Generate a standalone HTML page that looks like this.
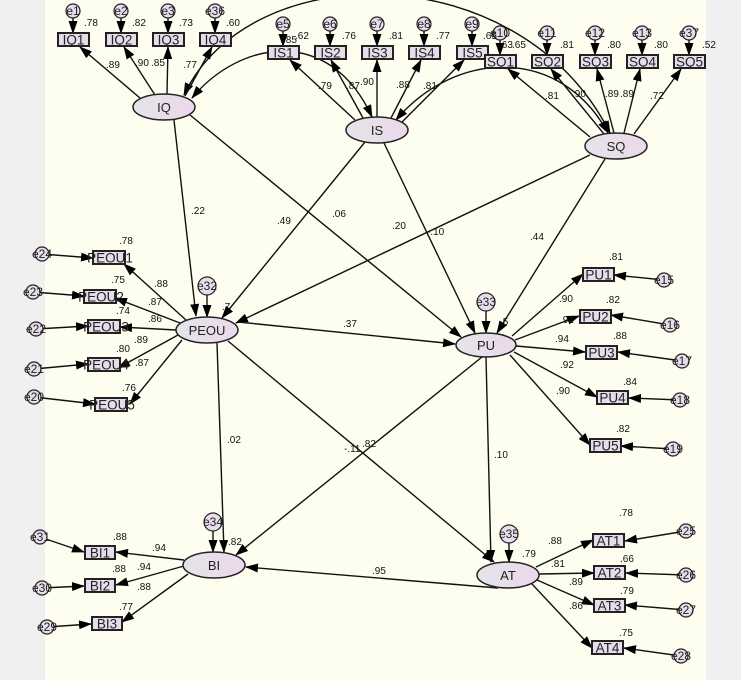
<!DOCTYPE html>
<html><head><meta charset="utf-8"><style>
html,body{margin:0;padding:0;background:#f0f0f0;}
svg{display:block;font-family:"Liberation Sans",sans-serif;}
.b{fill:#e6dcea;stroke:#222;stroke-width:2;}
.e{fill:url(#g);stroke:#222;stroke-width:1.5;}
.c{fill:#e8dcea;stroke:#222;stroke-width:1.2;}
.l{stroke:#111;stroke-width:1.4;fill:none;marker-end:url(#a);}
.cv{stroke:#111;stroke-width:1.4;fill:none;marker-end:url(#a);marker-start:url(#s);}
.t{font-size:10px;fill:#111;}
.bt{font-size:13.5px;fill:#222;text-anchor:middle;}
.et{font-size:13px;fill:#222;text-anchor:middle;}
.ct{font-size:12px;fill:#222;text-anchor:middle;}
</style></head><body>
<svg width="741" height="680" viewBox="0 0 741 680">
<defs>
<marker id="a" markerWidth="13" markerHeight="9" refX="12" refY="4.5" orient="auto" markerUnits="userSpaceOnUse"><path d="M0,0 L13,4.5 L0,9 z" fill="#000"/></marker>
<marker id="s" markerWidth="13" markerHeight="9" refX="1" refY="4.5" orient="auto" markerUnits="userSpaceOnUse"><path d="M13,0 L0,4.5 L13,9 z" fill="#000"/></marker>
<linearGradient id="g" x1="0" x2="1"><stop offset="0" stop-color="#e4e4e8"/><stop offset="1" stop-color="#ecd8ec"/></linearGradient>
</defs>
<rect x="45" y="0" width="661" height="680" fill="#fdfef0"/>

<path class="cv" d="M192,98 C240,40 330,25 372,117"/>
<path class="cv" d="M184,95 C250,-45 520,-45 610,133"/>
<path class="cv" d="M396,120 C455,50 560,45 608,133"/>

<line class="l" x1="140" y1="98" x2="80" y2="47"/>
<line class="l" x1="155" y1="95" x2="124" y2="47"/>
<line class="l" x1="167" y1="94" x2="168" y2="47"/>
<line class="l" x1="185" y1="96" x2="212" y2="47"/>
<line class="l" x1="355" y1="120" x2="290" y2="60"/>
<line class="l" x1="363" y1="118" x2="331" y2="60"/>
<line class="l" x1="377" y1="117" x2="377" y2="60"/>
<line class="l" x1="391" y1="118" x2="421" y2="60"/>
<line class="l" x1="400" y1="124" x2="464" y2="60"/>
<line class="l" x1="590" y1="137" x2="508" y2="69"/>
<line class="l" x1="604" y1="134" x2="551" y2="69"/>
<line class="l" x1="614" y1="133" x2="597" y2="69"/>
<line class="l" x1="624" y1="133" x2="640" y2="69"/>
<line class="l" x1="634" y1="134" x2="681" y2="69"/>
<line class="l" x1="73" y1="11" x2="73" y2="33"/>
<line class="l" x1="121" y1="11" x2="121" y2="33"/>
<line class="l" x1="168" y1="11" x2="168" y2="33"/>
<line class="l" x1="215" y1="11" x2="215" y2="33"/>
<line class="l" x1="283" y1="24" x2="283" y2="46"/>
<line class="l" x1="330" y1="24" x2="330" y2="46"/>
<line class="l" x1="377" y1="24" x2="377" y2="46"/>
<line class="l" x1="424" y1="24" x2="424" y2="46"/>
<line class="l" x1="472" y1="24" x2="472" y2="46"/>
<line class="l" x1="500" y1="33" x2="500" y2="55"/>
<line class="l" x1="547" y1="33" x2="547" y2="55"/>
<line class="l" x1="595" y1="33" x2="595" y2="55"/>
<line class="l" x1="642" y1="33" x2="642" y2="55"/>
<line class="l" x1="689" y1="33" x2="689" y2="55"/>

<line class="l" x1="174" y1="120" x2="196" y2="316"/>
<line class="l" x1="190" y1="115" x2="461" y2="337"/>
<line class="l" x1="365" y1="142" x2="222" y2="318"/>
<line class="l" x1="384" y1="143" x2="475" y2="333"/>
<line class="l" x1="590" y1="155" x2="236" y2="323"/>
<line class="l" x1="605" y1="159" x2="497" y2="333"/>
<line class="l" x1="238" y1="322" x2="455" y2="344"/>
<line class="l" x1="217" y1="343" x2="224" y2="552"/>
<line class="l" x1="228" y1="341" x2="494" y2="562"/>
<line class="l" x1="482" y1="357" x2="236" y2="555"/>
<line class="l" x1="486" y1="357" x2="491" y2="562"/>
<line class="l" x1="498" y1="588" x2="246" y2="567"/>
<line class="l" x1="207" y1="286" x2="207" y2="317"/>
<line class="l" x1="486" y1="302" x2="486" y2="333"/>
<line class="l" x1="213" y1="523" x2="213" y2="552"/>
<line class="l" x1="509" y1="535" x2="509" y2="562"/>

<line class="l" x1="186" y1="320" x2="124" y2="264"/>
<line class="l" x1="180" y1="323" x2="115" y2="298"/>
<line class="l" x1="176" y1="330" x2="120" y2="327"/>
<line class="l" x1="178" y1="335" x2="118" y2="368"/>
<line class="l" x1="182" y1="340" x2="130" y2="404"/>
<line class="l" x1="42" y1="254" x2="93" y2="258"/>
<line class="l" x1="33" y1="292" x2="84" y2="296"/>
<line class="l" x1="36" y1="329" x2="88" y2="326"/>
<line class="l" x1="34" y1="369" x2="88" y2="364"/>
<line class="l" x1="34" y1="397" x2="95" y2="404"/>
<line class="l" x1="512" y1="336" x2="583" y2="274"/>
<line class="l" x1="515" y1="340" x2="579" y2="316"/>
<line class="l" x1="516" y1="346" x2="585" y2="352"/>
<line class="l" x1="514" y1="352" x2="597" y2="397"/>
<line class="l" x1="510" y1="355" x2="590" y2="445"/>
<line class="l" x1="664" y1="280" x2="614" y2="275"/>
<line class="l" x1="670" y1="325" x2="611" y2="315"/>
<line class="l" x1="682" y1="361" x2="618" y2="352"/>
<line class="l" x1="680" y1="400" x2="629" y2="398"/>
<line class="l" x1="673" y1="449" x2="621" y2="446"/>
<line class="l" x1="184" y1="560" x2="116" y2="552"/>
<line class="l" x1="184" y1="566" x2="116" y2="585"/>
<line class="l" x1="188" y1="574" x2="122" y2="622"/>
<line class="l" x1="40" y1="537" x2="84" y2="552"/>
<line class="l" x1="42" y1="588" x2="84" y2="586"/>
<line class="l" x1="47" y1="627" x2="91" y2="624"/>
<line class="l" x1="536" y1="567" x2="593" y2="540"/>
<line class="l" x1="539" y1="574" x2="594" y2="573"/>
<line class="l" x1="537" y1="580" x2="594" y2="605"/>
<line class="l" x1="532" y1="584" x2="592" y2="648"/>
<line class="l" x1="686" y1="531" x2="625" y2="541"/>
<line class="l" x1="686" y1="575" x2="626" y2="573"/>
<line class="l" x1="686" y1="610" x2="625" y2="605"/>
<line class="l" x1="681" y1="656" x2="624" y2="648"/>

<g>
<rect class="b" x="58" y="33" width="31" height="13"/><text class="bt" x="73.5" y="44.5">IQ1</text>
<rect class="b" x="106" y="33" width="31" height="13"/><text class="bt" x="121.5" y="44.5">IQ2</text>
<rect class="b" x="153" y="33" width="31" height="13"/><text class="bt" x="168.5" y="44.5">IQ3</text>
<rect class="b" x="200" y="33" width="31" height="13"/><text class="bt" x="215.5" y="44.5">IQ4</text>
<rect class="b" x="268" y="46" width="31" height="13"/><text class="bt" x="283.5" y="57.5">IS1</text>
<rect class="b" x="315" y="46" width="31" height="13"/><text class="bt" x="330.5" y="57.5">IS2</text>
<rect class="b" x="362" y="46" width="31" height="13"/><text class="bt" x="377.5" y="57.5">IS3</text>
<rect class="b" x="409" y="46" width="31" height="13"/><text class="bt" x="424.5" y="57.5">IS4</text>
<rect class="b" x="457" y="46" width="31" height="13"/><text class="bt" x="472.5" y="57.5">IS5</text>
<rect class="b" x="485" y="55" width="31" height="13"/><text class="bt" x="500.5" y="66.5">SQ1</text>
<rect class="b" x="532" y="55" width="31" height="13"/><text class="bt" x="547.5" y="66.5">SQ2</text>
<rect class="b" x="580" y="55" width="31" height="13"/><text class="bt" x="595.5" y="66.5">SQ3</text>
<rect class="b" x="627" y="55" width="31" height="13"/><text class="bt" x="642.5" y="66.5">SQ4</text>
<rect class="b" x="674" y="55" width="31" height="13"/><text class="bt" x="689.5" y="66.5">SQ5</text>
<rect class="b" x="93" y="251" width="32" height="13"/><text class="bt" x="110" y="262.5">PEOU1</text>
<rect class="b" x="84" y="290" width="32" height="13"/><text class="bt" x="101" y="301.5">PEOU2</text>
<rect class="b" x="88" y="320" width="32" height="13"/><text class="bt" x="106" y="331.5">PEOU3</text>
<rect class="b" x="88" y="358" width="32" height="13"/><text class="bt" x="106" y="369.5">PEOU4</text>
<rect class="b" x="95" y="398" width="32" height="13"/><text class="bt" x="112" y="409.5">PEOU5</text>
<rect class="b" x="583" y="268" width="31" height="13"/><text class="bt" x="598.5" y="279.5">PU1</text>
<rect class="b" x="580" y="310" width="31" height="13"/><text class="bt" x="595.5" y="321.5">PU2</text>
<rect class="b" x="586" y="346" width="31" height="13"/><text class="bt" x="601.5" y="357.5">PU3</text>
<rect class="b" x="597" y="391" width="31" height="13"/><text class="bt" x="612.5" y="402.5">PU4</text>
<rect class="b" x="590" y="439" width="31" height="13"/><text class="bt" x="605.5" y="450.5">PU5</text>
<rect class="b" x="85" y="546" width="30" height="13"/><text class="bt" x="100" y="557.5">BI1</text>
<rect class="b" x="85" y="579" width="30" height="13"/><text class="bt" x="100" y="590.5">BI2</text>
<rect class="b" x="92" y="617" width="30" height="13"/><text class="bt" x="107" y="628.5">BI3</text>
<rect class="b" x="593" y="534" width="31" height="13"/><text class="bt" x="608.5" y="545.5">AT1</text>
<rect class="b" x="594" y="566" width="31" height="13"/><text class="bt" x="609.5" y="577.5">AT2</text>
<rect class="b" x="594" y="599" width="31" height="13"/><text class="bt" x="609.5" y="610.5">AT3</text>
<rect class="b" x="592" y="641" width="31" height="13"/><text class="bt" x="607.5" y="652.5">AT4</text>
</g>

<ellipse class="e" cx="164" cy="107" rx="31" ry="13"/><text class="et" x="164" y="112">IQ</text>
<ellipse class="e" cx="377" cy="130" rx="31" ry="13"/><text class="et" x="377" y="135">IS</text>
<ellipse class="e" cx="616" cy="146" rx="31" ry="13"/><text class="et" x="616" y="151">SQ</text>
<ellipse class="e" cx="207" cy="330" rx="31" ry="13"/><text class="et" x="207" y="335">PEOU</text>
<ellipse class="e" cx="486" cy="345" rx="30" ry="12"/><text class="et" x="486" y="350">PU</text>
<ellipse class="e" cx="214" cy="565" rx="31" ry="13"/><text class="et" x="214" y="570">BI</text>
<ellipse class="e" cx="508" cy="575" rx="31" ry="13"/><text class="et" x="508" y="580">AT</text>

<g>
<circle class="c" cx="73" cy="11" r="7"/><text class="ct" x="73" y="15">e1</text>
<circle class="c" cx="121" cy="11" r="7"/><text class="ct" x="121" y="15">e2</text>
<circle class="c" cx="168" cy="11" r="7"/><text class="ct" x="168" y="15">e3</text>
<circle class="c" cx="215" cy="11" r="7"/><text class="ct" x="215" y="15">e36</text>
<circle class="c" cx="283" cy="24" r="7"/><text class="ct" x="283" y="28">e5</text>
<circle class="c" cx="330" cy="24" r="7"/><text class="ct" x="330" y="28">e6</text>
<circle class="c" cx="377" cy="24" r="7"/><text class="ct" x="377" y="28">e7</text>
<circle class="c" cx="424" cy="24" r="7"/><text class="ct" x="424" y="28">e8</text>
<circle class="c" cx="472" cy="24" r="7"/><text class="ct" x="472" y="28">e9</text>
<circle class="c" cx="500" cy="33" r="7"/><text class="ct" x="500" y="37">e10</text>
<circle class="c" cx="547" cy="33" r="7"/><text class="ct" x="547" y="37">e11</text>
<circle class="c" cx="595" cy="33" r="7"/><text class="ct" x="595" y="37">e12</text>
<circle class="c" cx="642" cy="33" r="7"/><text class="ct" x="642" y="37">e13</text>
<circle class="c" cx="689" cy="33" r="7"/><text class="ct" x="689" y="37">e37</text>
<circle class="c" cx="42" cy="254" r="7"/><text class="ct" x="42" y="258">e24</text>
<circle class="c" cx="33" cy="292" r="7"/><text class="ct" x="33" y="296">e23</text>
<circle class="c" cx="36" cy="329" r="7"/><text class="ct" x="36" y="333">e22</text>
<circle class="c" cx="34" cy="369" r="7"/><text class="ct" x="34" y="373">e21</text>
<circle class="c" cx="34" cy="397" r="7"/><text class="ct" x="34" y="401">e20</text>
<circle class="c" cx="664" cy="280" r="7"/><text class="ct" x="664" y="284">e15</text>
<circle class="c" cx="670" cy="325" r="7"/><text class="ct" x="670" y="329">e16</text>
<circle class="c" cx="682" cy="361" r="7"/><text class="ct" x="682" y="365">e17</text>
<circle class="c" cx="680" cy="400" r="7"/><text class="ct" x="680" y="404">e18</text>
<circle class="c" cx="673" cy="449" r="7"/><text class="ct" x="673" y="453">e19</text>
<circle class="c" cx="686" cy="531" r="7"/><text class="ct" x="686" y="535">e25</text>
<circle class="c" cx="686" cy="575" r="7"/><text class="ct" x="686" y="579">e26</text>
<circle class="c" cx="686" cy="610" r="7"/><text class="ct" x="686" y="614">e27</text>
<circle class="c" cx="681" cy="656" r="7"/><text class="ct" x="681" y="660">e28</text>
<circle class="c" cx="40" cy="537" r="7"/><text class="ct" x="40" y="541">e31</text>
<circle class="c" cx="42" cy="588" r="7"/><text class="ct" x="42" y="592">e30</text>
<circle class="c" cx="47" cy="627" r="7"/><text class="ct" x="47" y="631">e29</text>
<circle class="c" cx="207" cy="286" r="9"/><text class="ct" x="207" y="290">e32</text>
<circle class="c" cx="486" cy="302" r="9"/><text class="ct" x="486" y="306">e33</text>
<circle class="c" cx="213" cy="522" r="9"/><text class="ct" x="213" y="526">e34</text>
<circle class="c" cx="509" cy="534" r="9"/><text class="ct" x="509" y="538">e35</text>
</g>

<g class="t">
<text x="84" y="26">.78</text><text x="132" y="26">.82</text><text x="179" y="26">.73</text><text x="226" y="26">.60</text>
<text x="106" y="68">.89</text><text x="135" y="66">.90</text><text x="151" y="66">.85</text><text x="183" y="68">.77</text>
<text x="283" y="43">.85</text><text x="295" y="39">.62</text><text x="342" y="39">.76</text><text x="389" y="39">.81</text><text x="436" y="39">.77</text>
<text x="483" y="39">.65</text><text x="499" y="48">.63</text><text x="512" y="48">.65</text><text x="560" y="48">.81</text><text x="607" y="48">.80</text><text x="654" y="48">.80</text><text x="702" y="48">.52</text>
<text x="318" y="89">.79</text><text x="346" y="89">.87</text><text x="360" y="85">.90</text><text x="396" y="88">.88</text><text x="423" y="89">.81</text>
<text x="545" y="99">.81</text><text x="572" y="97">.90</text><text x="605" y="97">.89</text><text x="620" y="97">.89</text><text x="650" y="99">.72</text>
<text x="191" y="214">.22</text><text x="277" y="224">.49</text><text x="332" y="217">.06</text><text x="392" y="229">.20</text><text x="427" y="235">-.10</text><text x="530" y="240">.44</text>
<text x="119" y="244">.78</text><text x="154" y="287">.88</text><text x="111" y="283">.75</text><text x="148" y="305">.87</text><text x="116" y="314">.74</text><text x="148" y="322">.86</text>
<text x="134" y="343">.89</text><text x="116" y="352">.80</text><text x="135" y="366">.87</text><text x="122" y="391">.76</text>
<text x="222" y="310">.7</text><text x="343" y="327">.37</text><text x="500" y="325">.5</text>
<text x="609" y="260">.81</text><text x="559" y="302">.90</text><text x="560" y="323">.91</text><text x="606" y="303">.82</text><text x="555" y="342">.94</text><text x="613" y="339">.88</text>
<text x="560" y="368">.92</text><text x="623" y="385">.84</text><text x="556" y="394">.90</text><text x="616" y="432">.82</text>
<text x="227" y="443">.02</text><text x="344" y="452">-.11</text><text x="362" y="447">.82</text><text x="494" y="458">.10</text>
<text x="228" y="545">.82</text><text x="113" y="540">.88</text><text x="152" y="551">.94</text><text x="112" y="572">.88</text><text x="137" y="570">.94</text><text x="137" y="590">.88</text><text x="119" y="610">.77</text>
<text x="372" y="574">.95</text><text x="522" y="557">.79</text>
<text x="548" y="544">.88</text><text x="619" y="516">.78</text><text x="551" y="567">.81</text><text x="620" y="562">.66</text><text x="569" y="585">.89</text><text x="620" y="594">.79</text><text x="569" y="609">.86</text><text x="619" y="636">.75</text>
</g>
</svg>
</body></html>
